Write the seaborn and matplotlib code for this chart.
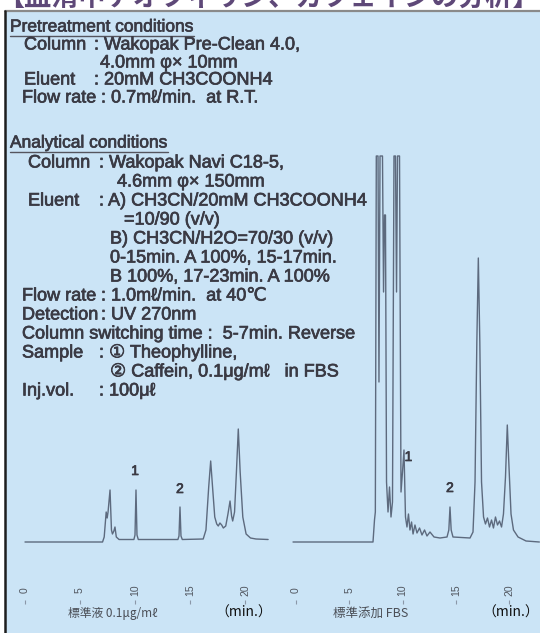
# -*- coding: UTF-8 -*-
# HPLC chromatograms: theophylline / caffeine in serum (column switching)
import matplotlib
matplotlib.use('Agg')
import matplotlib.pyplot as plt
import matplotlib.patheffects as pe
from matplotlib.patches import Rectangle
import numpy as np
import pandas as pd
import seaborn as sns

# chromatogram 1 : standard 0.1ug/ml  (time in min, detector signal in arbitrary units)
std_time = [0.0, 7.05, 7.2, 7.38, 7.47, 7.55, 7.73, 7.86, 7.95, 8.08,
            8.18, 8.3, 8.55, 9.9, 10.0, 10.09, 10.18, 10.3, 13.9, 14.0,
            14.09, 14.18, 14.3, 16.2, 16.45, 16.7, 16.88, 17.05, 17.25, 17.43,
            17.57, 17.72, 17.88, 18.03, 18.25, 18.45, 18.64, 18.78, 18.88, 19.05,
            19.22, 19.39, 19.56, 19.8, 20.1, 20.5, 21.0, 22.1]
std_signal = [0, 0, 5, 30, 24, 30, 52, 12, 8, 11,
              15, 5, 2.5, 2.5, 7, 52, 7, 2.5, 2.5, 6,
              35, 6, 2.5, 3, 12, 55, 81, 55, 25, 18,
              16, 19, 17, 14, 16, 28, 41, 26, 21, 30,
              70, 113, 70, 25, 8, 4, 3, 2.5]

# chromatogram 2 : standard added to FBS
fbs_time = [-0.28, 7.23, 7.37, 7.45, 7.54, 7.70, 7.79, 7.89, 8.12, 8.22,
            8.31, 8.40, 8.50, 8.64, 8.78, 8.92, 9.06, 9.20, 9.34, 9.44,
            9.53, 9.72, 9.86, 10.0, 10.14, 10.28, 10.42, 10.56, 10.70, 10.85,
            10.99, 11.17, 11.36, 11.60, 11.83, 12.07, 12.30, 12.58, 12.96, 13.52,
            14.18, 14.35, 14.46, 14.57, 14.74, 16.34, 16.62, 16.81, 16.98, 17.12,
            17.26, 17.42, 17.61, 17.79, 17.98, 18.17, 18.36, 18.54, 18.73, 18.92,
            19.11, 19.30, 19.48, 19.67, 19.84, 20.0, 20.19, 20.42, 20.85, 21.6,
            22.85]
fbs_signal = [0, 0, 22, 30, 386, 386, 160, 386, 386, 250,
              327, 327, 60, 30, 55, 25, 40, 386, 386, 250,
              386, 386, 50, 70, 92, 25, 15, 28, 12, 20,
              8, 17, 9, 14, 7, 12, 6, 10, 5, 4,
              5, 12, 35, 12, 5, 4, 10, 60, 200, 284,
              200, 60, 25, 18, 24, 15, 22, 14, 25, 17,
              21, 15, 28, 65, 117, 75, 28, 12, 5, 1,
              0]

tick_min = [0, 5, 10, 15, 20]
tick_lab = ['0', '5', '10', '15', '20']

# peak numbers (label, time, height of label)
std_peaks = [('1', 10.0, 71), ('2', 14.09, 53)]
fbs_peaks = [('1', 10.55, 85), ('2', 14.46, 54)]

title = '【血清中テオフィリン、カフェインの分析】'
std_name = '標準液 0.1μg/mℓ'
fbs_name = '標準添加 FBS'

# condition text: (x, y, text) in picture pixels
headings = [(10, 27, 'Pretreatment conditions'),
            (10, 143, 'Analytical conditions')]
cond_lines = [
    (24, 45, 'Column'), (94, 45, ': Wakopak Pre-Clean 4.0,'),
    (100, 63, '4.0mm φ× 10mm'),
    (24, 80, 'Eluent'), (94, 80, ': 20mM CH3COONH4'),
    (22, 98, 'Flow rate'), (101, 98, ': 0.7mℓ/min.  at R.T.'),
    (28, 163, 'Column'), (99, 163, ': Wakopak Navi C18-5,'),
    (117, 182, '4.6mm φ× 150mm'),
    (28, 201, 'Eluent'), (99, 201, ': A) CH3CN/20mM CH3COONH4'),
    (124, 220, '=10/90 (v/v)'),
    (110, 239, 'B) CH3CN/H2O=70/30 (v/v)'),
    (110, 258, '0-15min. A 100%, 15-17min.'),
    (110, 277, 'B 100%, 17-23min. A 100%'),
    (22, 296, 'Flow rate'), (101, 296, ': 1.0mℓ/min.  at 40℃'),
    (22, 315, 'Detection'), (101, 315, ': UV 270nm'),
    (22, 334, 'Column switching time :  5-7min. Reverse'),
    (22, 353, 'Sample'), (99, 353, ': ① Theophylline,'),
    (110, 372, '② Caffein, 0.1μg/mℓ   in FBS'),
    (22, 391, 'Inj.vol.'), (99, 391, ': 100μℓ'),
]

W, H = 540, 633
panel = '#cbe4f6'
ink = '#3a3a44'
trace = '#5d6a7e'
thick = [pe.withStroke(linewidth=0.5, foreground=ink)]

sns.set_theme(style='white')
plt.rcParams['font.family'] = ['Liberation Sans', 'DejaVu Sans', 'Noto Sans CJK JP']

fig = plt.figure(figsize=(W / 100, H / 100), dpi=100)
fig.patch.set_facecolor('white')

# background axes in pixel units
bg = fig.add_axes([0, 0, 1, 1])
bg.set_xlim(0, W)
bg.set_ylim(H, 0)
bg.axis('off')
bg.add_patch(Rectangle((5, 11), W - 5, H - 11, fc=panel, ec='none'))
bg.plot([5, W], [11, 11], color='#8a8a8a', lw=1.6)
bg.plot([5, 5], [11, H], color='#1e1e1e', lw=1.8)

# title strip, cut by the top edge as in the scan
bg.text(268, -2, title, ha='center', va='center', fontsize=19.5, fontweight='bold',
        color='#5e4878', family=['Noto Sans CJK JP', 'DejaVu Sans'], clip_on=False)

head_objs = []
for x, y, s in headings:
    head_objs.append(bg.text(x, y, s, ha='left', va='center', fontsize=12.5, color=ink,
                             path_effects=thick))
for x, y, s in cond_lines:
    bg.text(x, y, s, ha='left', va='center', fontsize=13, color=ink, path_effects=thick)

bg.text(113, 613, std_name, ha='center', va='center', fontsize=8.5, color='#4a4e56',
        family=['Noto Sans CJK JP', 'DejaVu Sans'])
bg.text(371, 613, fbs_name, ha='center', va='center', fontsize=9, color='#4a4e56',
        family=['Noto Sans CJK JP', 'DejaVu Sans'])
for xm in [244, 511]:
    bg.text(xm, 613, '（min.）', ha='center', va='center', fontsize=10, color='#111111',
            family=['Noto Sans CJK JP', 'DejaVu Sans'])

# underline the two headings
fig.canvas.draw()
rend = fig.canvas.get_renderer()
inv = bg.transData.inverted()
for t in head_objs:
    bb = t.get_window_extent(rend)
    (x0, y0), (x1, y1) = inv.transform([[bb.x0, bb.y0], [bb.x1, bb.y0]])
    bg.plot([x0, x1], [y0 + 1, y1 + 1], color='#55555e', lw=1.0)


def chrom_axes(px_left, px_right, px_t0, px_per_min):
    ax = fig.add_axes([px_left / W, (H - 604) / H, (px_right - px_left) / W, (604 - 150) / H])
    ax.set_facecolor('none')
    ax.set_xlim((px_left - px_t0) / px_per_min, (px_right - px_t0) / px_per_min)
    ax.set_ylim(-62, 392)
    ax.set_xticks(tick_min, tick_lab)
    ax.set_yticks([])
    ax.tick_params(axis='x', direction='in', length=3, width=0.8, color='#8b97a8',
                   pad=-10, labelsize=7.5, labelcolor='#50555e', labelrotation=90, bottom=True)
    for lab in ax.get_xticklabels():
        lab.set_va('center')
    sns.despine(ax=ax, left=True, bottom=True)
    return ax


ax1 = chrom_axes(12, 272, 25, 11.0)
df_std = pd.DataFrame({'time': std_time, 'signal': std_signal})
sns.lineplot(data=df_std, x='time', y='signal', sort=False, estimator=None,
             color=trace, lw=1.0, ax=ax1)
for lab, t, h in std_peaks:
    ax1.text(t, h, lab, ha='center', va='center', fontsize=10, color=ink, path_effects=thick)
ax1.set_xlabel('')
ax1.set_ylabel('')

ax2 = chrom_axes(280, 540, 296, 10.65)
df_fbs = pd.DataFrame({'time': fbs_time, 'signal': fbs_signal})
sns.lineplot(data=df_fbs, x='time', y='signal', sort=False, estimator=None,
             color=trace, lw=1.0, ax=ax2)
for lab, t, h in fbs_peaks:
    ax2.text(t, h, lab, ha='center', va='center', fontsize=10, color=ink, path_effects=thick)
ax2.set_xlabel('')
ax2.set_ylabel('')

fig.savefig('out.png', dpi=100)
